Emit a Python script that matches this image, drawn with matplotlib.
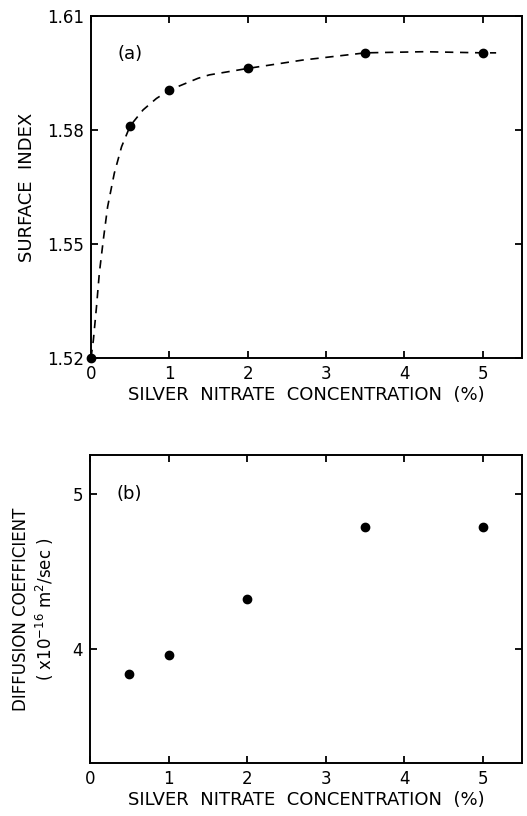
import numpy as np
import matplotlib
matplotlib.use("Agg")
import matplotlib.pyplot as plt

# (a) surface index vs silver nitrate concentration
conc_a = [0.0, 0.5, 1.0, 2.0, 3.5, 5.0]
surface_index = [1.520, 1.5811, 1.5905, 1.5962, 1.6003, 1.6003]

# dashed guide curve
curve_x = [0.0, 0.03, 0.07, 0.106, 0.157, 0.212, 0.297, 0.39, 0.5, 0.665, 0.835, 1.0,
           1.365, 1.51, 2.0, 2.70, 3.5, 4.25, 5.0, 5.17]
curve_y = [1.520, 1.5247, 1.5335, 1.5423, 1.5511, 1.5598, 1.5686, 1.5756, 1.5811, 1.5853,
           1.5883, 1.5905, 1.5936, 1.5945, 1.5962, 1.5984, 1.6003, 1.6006, 1.6003, 1.6003]

# (b) diffusion coefficient vs concentration
conc_b = [0.5, 1.0, 2.0, 3.5, 5.0]
diffusion = [3.844, 3.963, 4.326, 4.786, 4.786]

xticks = [0, 1, 2, 3, 4, 5]
xlabel = "SILVER  NITRATE  CONCENTRATION  (%)"

plt.rcParams['font.family'] = ['DejaVu Sans']
plt.rcParams['font.size'] = 12

fig = plt.figure(figsize=(5.27, 8.16), dpi=100)
ax1 = fig.add_axes([0.1727, 0.5613, 0.8178, 0.4191])
ax2 = fig.add_axes([0.1708, 0.0650, 0.8197, 0.3774])

for ax in (ax1, ax2):
    for s in ax.spines.values():
        s.set_linewidth(1.4)
    ax.tick_params(direction='in', length=5, width=1.3, top=True, right=True,
                   labelsize=12, pad=5)
    ax.set_xlim(0, 5.5)
    ax.set_xticks(xticks)
    ax.set_xlabel(xlabel, fontsize=13, labelpad=2)

ax1.plot(curve_x, curve_y, 'k--', lw=1.2, dashes=(5, 4))
ax1.plot(conc_a, surface_index, 'ko', ms=6, clip_on=False)
ax1.set_ylim(1.52, 1.61)
ax1.set_yticks([1.52, 1.55, 1.58, 1.61])
ax1.set_yticklabels(['1.52', '1.55', '1.58', '1.61'])
ax1.set_ylabel("SURFACE  INDEX", fontsize=13, labelpad=8)
ax1.text(0.5, 1.6, "(a)", fontsize=13, ha='center', va='center')

ax2.plot(conc_b, diffusion, 'ko', ms=6)
ax2.set_ylim(3.27, 5.25)
ax2.set_yticks([4, 5])
ax2.set_ylabel("DIFFUSION COEFFICIENT\n( x10$^{-16}$ m$^{2}$/sec )", fontsize=12,
               labelpad=12, linespacing=1.2)
ax2.text(0.5, 5.0, "(b)", fontsize=13, ha='center', va='center')

fig.savefig("out.png", dpi=100)
